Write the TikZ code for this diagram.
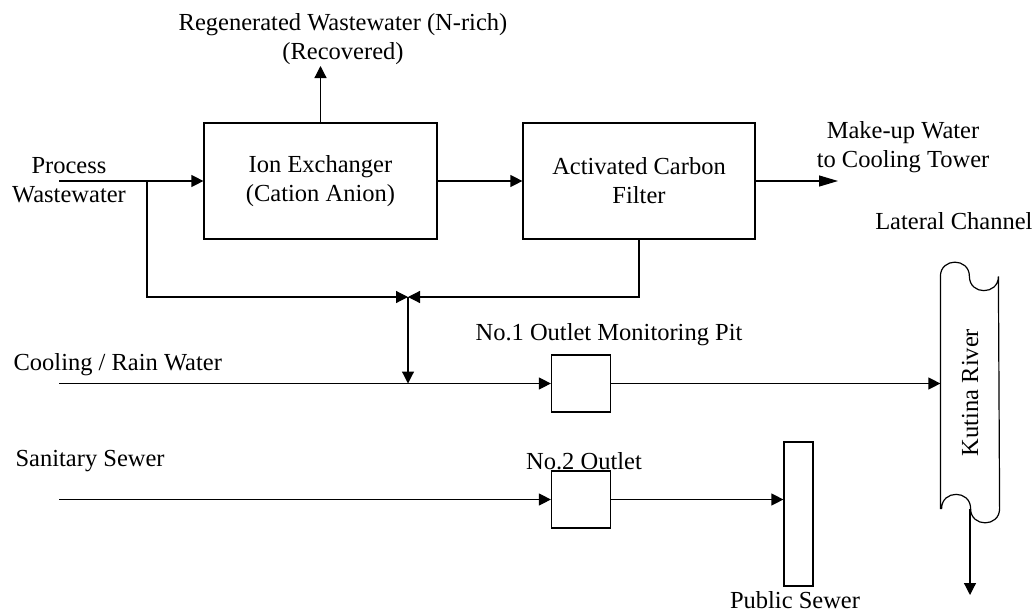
\documentclass[tikz,border=0pt]{standalone}
\usepackage{fontspec}
\setmainfont{Liberation Serif}
\usetikzlibrary{arrows.meta}

\begin{document}
\begin{tikzpicture}[x=1pt,y=-1pt,line width=1.2pt,
  every node/.style={font=\fontsize{24.5}{29}\selectfont},
  flow/.style={-{Triangle[length=12pt,width=12pt]}},
  longflow/.style={-{Triangle[length=19pt,width=11pt]}},
  unit/.style={draw,align=center,inner sep=0pt},
  lbl/.style={inner sep=0pt,align=center}]
\useasboundingbox (0,0) rectangle (1034,613);

% treatment units
\node[unit,minimum width=233pt,minimum height=116pt] (ionx) at (320.5,181) {Ion Exchanger\\(Cation Anion)};
\node[unit,minimum width=232pt,minimum height=116pt] (carbon) at (639,181) {Activated Carbon\\Filter};

% outlets and receivers
\node[unit,minimum width=59pt,minimum height=57pt] (pit1) at (581,383.5) {};
\node[unit,minimum width=59pt,minimum height=57pt] (pit2) at (581,499.5) {};
\node[unit,minimum width=29pt,minimum height=144pt] (sewer) at (798.5,514) {};
\node[minimum width=58pt,minimum height=231pt,inner sep=0pt] (river) at (970,392.5) {};
\draw (river.south west) -- (river.north west)
  .. controls +(0,-19) and +(0,-19) .. ++(29,0)
  .. controls +(0,19) and +(0,19) .. ++(29,0)
  -- (river.south east)
  .. controls +(0,19) and +(0,19) .. ++(-29,0)
  .. controls +(0,-19) and +(0,-19) .. ++(-29,0) -- cycle;
\node[rotate=90,inner sep=0pt] (rivername) at (river) {Kutina River};

% labels
\node[lbl] (regen) at (343,39.5) {Regenerated Wastewater (N-rich)\\(Recovered)};
\node[lbl] (pwlbl) at (69,180) {Process\\Wastewater};
\node[lbl] (mklbl) at (903,147) {Make-up Water\\to Cooling Tower};
\node[lbl,anchor=base east] (lateral) at (1033,229) {Lateral Channel};
\node[lbl,anchor=base] (pit1lbl) at (609,340) {No.1 Outlet Monitoring Pit};
\node[lbl,anchor=base] (pit2lbl) at (584,469) {No.2 Outlet};
\node[lbl,anchor=base] (sewerlbl) at (795,608) {Public Sewer};
\node[lbl,anchor=base west] (cwlbl) at (13,370) {Cooling / Rain Water};
\node[lbl,anchor=base west] (sslbl) at (15,466) {Sanitary Sewer};

% free ends and the junction
\coordinate (pwin) at (59,181);
\coordinate (bypass) at (147,181);
\coordinate (jn) at (408,297);
\coordinate (mkup) at (838,181);
\coordinate (regtip) at (320.5,66);
\coordinate (cwin) at (59,383.5);
\coordinate (ssin) at (59,499.5);
\coordinate (rout) at (970,595);

% flows
\draw[flow] (pwin) -- (ionx);
\draw[flow] (ionx) -- (carbon);
\draw[longflow] (carbon) -- (mkup);
\draw[flow] (ionx) -- (regtip);
\draw[flow] (bypass) |- (jn);
\draw[flow] (carbon) |- (jn);
\draw[flow] (jn) -- (jn |- cwin);
\draw[flow] (cwin) -- (pit1);
\draw[flow] (pit1.east) -- (pit1.east -| river.west);
\draw[flow] (ssin) -- (pit2);
\draw[flow] (pit2.east) -- (pit2.east -| sewer.west);
\draw[flow] (river.south) -- (rout);
\end{tikzpicture}
\end{document}
